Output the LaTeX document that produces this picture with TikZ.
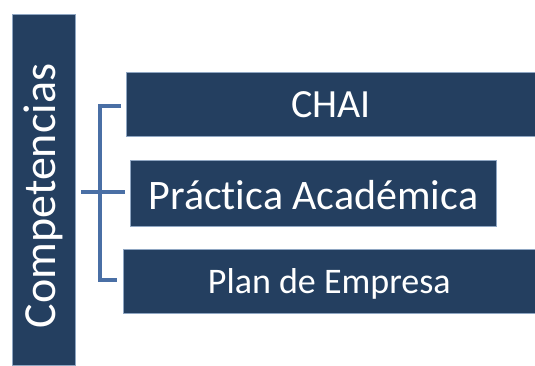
\documentclass[tikz,border=0pt]{standalone}
\usepackage{fontspec}
\setmainfont{Carlito}[Ligatures={NoCommon,NoRare,NoDiscretionary},Contextuals=NoAlternate]
\definecolor{boxfill}{HTML}{243F60}
\definecolor{boxedge}{HTML}{8FA6C2}
\definecolor{bracket}{HTML}{4A6FA5}
\begin{document}
\begin{tikzpicture}[x=1pt,y=-1pt,
  box/.style={rectangle,fill=boxfill,draw=boxedge,line width=0.6pt,text=white,inner sep=0pt},
  brk/.style={draw=bracket,line width=4pt}]
\useasboundingbox (0,0) rectangle (535,365);
% left bar
\node[box,minimum width=63pt,minimum height=351pt,anchor=north west] (bar) at (12,14) {};
\node[text=white,rotate=90,inner sep=0pt,font=\fontsize{46}{55}\selectfont] (comp) at (43.5,196) {Competencias};
% boxes
\node[box,minimum width=409pt,minimum height=64pt,anchor=north west] (chai) at (126,72) {};
\node[text=white,inner sep=0pt,font=\fontsize{40}{48}\selectfont] (chait) at (chai.center) {CHAI};
\node[box,minimum width=366pt,minimum height=66pt,anchor=north west] (prac) at (130,160) {};
\node[text=white,inner sep=0pt,font=\fontsize{42}{50}\selectfont] (pract) at ([yshift=-2pt]prac.center) {Práctica Académica};
\node[box,minimum width=412pt,minimum height=64pt,anchor=north west] (plan) at (123,249) {};
\node[text=white,inner sep=0pt,font=\fontsize{36}{43}\selectfont] (plant) at ([yshift=-3pt]plan.center) {Plan de Empresa};
% bracket
\coordinate (top) at (100,106);
\coordinate (bot) at (100,280);
\coordinate (mid) at (100,192);
\coordinate (midl) at (81,192);
\coordinate (midr) at (125,192);
\coordinate (topr) at (121,106);
\coordinate (botr) at (117,280);
\draw[brk] (topr) -- (top) -- (bot) -- (botr);
\draw[brk] (midl) -- (midr);
\end{tikzpicture}
\end{document}
